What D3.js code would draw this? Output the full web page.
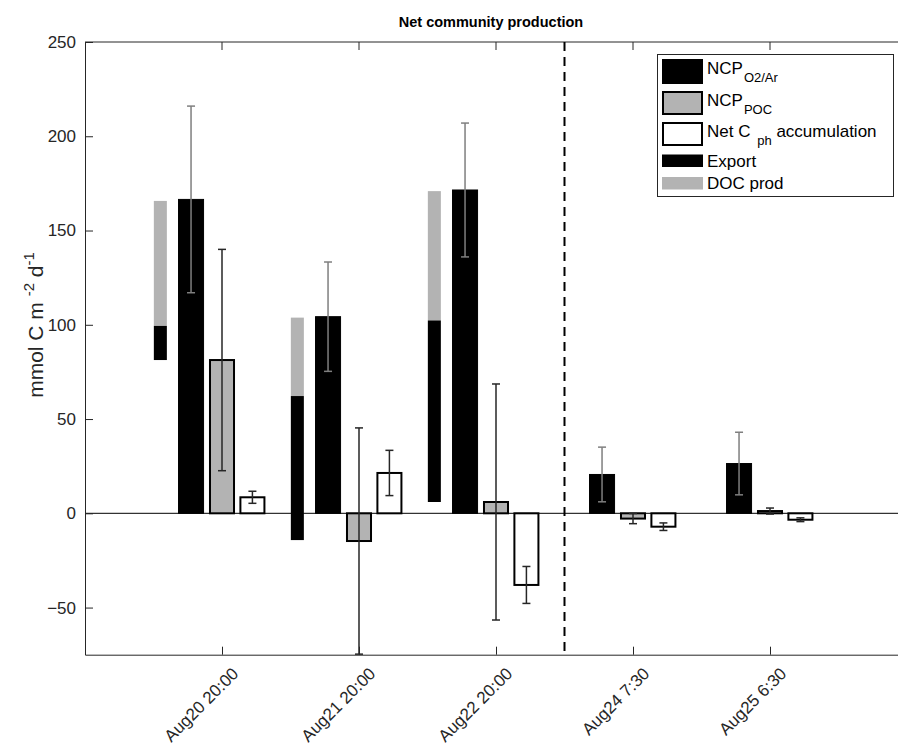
<!DOCTYPE html>
<html><head><meta charset="utf-8">
<script src="https://cdn.jsdelivr.net/npm/d3@7"></script>
<style>body{margin:0;background:#fff}svg{display:block;font-family:"Liberation Sans",Arial,Helvetica,sans-serif}</style>
</head><body><svg id="c" width="898" height="753"></svg>
<script>
const categories = ["Aug20 20:00","Aug21 20:00","Aug22 20:00","Aug24 7:30","Aug25 6:30"];
const ncpO2Ar    = [166.5, 104.3, 171.5, 20.6, 26.4];
const ncpO2ArErr = [49.5, 29, 35.5, 14.5, 16.6];
const ncpPOC     = [81.3, -14.7, 6, -2.8, 1.2];
const ncpPOCErr  = [58.7, 60, 62.6, 2.7, 1.6];
const netCph     = [8.5, 21.4, -38, -7.1, -3.4];
const netCphErr  = [3.2, 12, 9.8, 2, 1];
const exportBase = [81.3, -14.2, 6, null, null];
const exportTop  = [99.4, 62.2, 102.3, null, null];
const docTop     = [165.7, 103.8, 170.9, null, null];
const yTicks = [-50, 0, 50, 100, 150, 200, 250];
const dividerAt = 3.5;

const svg = d3.select("#c");
const L = 85, T = 42, B = 654.7, R = 907;
const x = d3.scaleLinear().domain([0, 6]).range([L, R]);
const y = d3.scaleLinear().domain([-75, 250]).range([B, T]);
const axisCol = "#262626";
const FS = 17;

const g = svg.append("g");
g.append("line").attr("x1", L).attr("x2", R).attr("y1", T).attr("y2", T).attr("stroke", axisCol).attr("stroke-width", 1);
g.append("line").attr("x1", L).attr("x2", R).attr("y1", y(0)).attr("y2", y(0)).attr("stroke", "#000").attr("stroke-width", 1);

const nW = x(0.095) - x(0), nOff = -0.45;
categories.forEach((c, i) => {
  if (exportTop[i] == null) return;
  const cx = x(i + 1 + nOff);
  g.append("rect").attr("x", cx - nW/2).attr("width", nW)
    .attr("y", y(docTop[i])).attr("height", y(exportTop[i]) - y(docTop[i])).attr("fill", "#b3b3b3");
  g.append("rect").attr("x", cx - nW/2).attr("width", nW)
    .attr("y", y(exportTop[i])).attr("height", y(exportBase[i]) - y(exportTop[i])).attr("fill", "#000");
});

const bW = x(0.19) - x(0);
const series = [
  {vals: ncpO2Ar, err: ncpO2ArErr, off: -0.226, fill: "#000", stroke: "#000", sw: 1, ec: "#7f7f7f"},
  {vals: ncpPOC, err: ncpPOCErr, off: 0, fill: "#b3b3b3", stroke: "#000", sw: 2, ec: "#262626"},
  {vals: netCph, err: netCphErr, off: 0.222, fill: "#fff", stroke: "#000", sw: 2, ec: "#262626"}
];
series.forEach(s => {
  s.vals.forEach((v, i) => {
    const cx = x(i + 1 + s.off);
    const y0 = y(Math.max(v, 0)), y1 = y(Math.min(v, 0));
    g.append("rect").attr("x", cx - bW/2 + s.sw/2).attr("width", bW - s.sw)
      .attr("y", y0).attr("height", Math.max(y1 - y0, 0.5))
      .attr("fill", s.fill).attr("stroke", s.stroke).attr("stroke-width", s.sw);
  });
});
series.forEach(s => {
  s.vals.forEach((v, i) => {
    const cx = x(i + 1 + s.off);
    const lo = Math.max(v - s.err[i], -75), hi = v + s.err[i];
    const eg = g.append("g").attr("stroke", s.ec).attr("stroke-width", 1.5);
    eg.append("line").attr("x1", cx).attr("x2", cx).attr("y1", y(lo)).attr("y2", y(hi));
    eg.append("line").attr("x1", cx - 4).attr("x2", cx + 4).attr("y1", y(hi)).attr("y2", y(hi));
    eg.append("line").attr("x1", cx - 4).attr("x2", cx + 4).attr("y1", y(lo)).attr("y2", y(lo));
  });
});

g.append("line").attr("x1", x(dividerAt)).attr("x2", x(dividerAt)).attr("y1", T).attr("y2", B)
  .attr("stroke", "#000").attr("stroke-width", 2).attr("stroke-dasharray", "9,6");

const ya = svg.append("g").attr("transform", `translate(${L},0)`)
  .call(d3.axisLeft(y).tickValues(yTicks).tickSize(-8).tickPadding(9).tickSizeOuter(0));
ya.select(".domain").attr("stroke", axisCol);
ya.selectAll(".tick line").attr("stroke", axisCol);
ya.selectAll("text").attr("font-size", FS).attr("fill", axisCol).attr("font-family", "Liberation Sans, Arial, sans-serif");

const xa = svg.append("g").attr("transform", `translate(0,${B})`)
  .call(d3.axisBottom(x).tickValues([1,2,3,4,5]).tickSize(-8).tickSizeOuter(0).tickFormat(""));
xa.select(".domain").attr("stroke", axisCol);
xa.selectAll(".tick line").attr("stroke", axisCol);
xa.selectAll(".tick").append("text")
  .attr("transform", "translate(17,20) rotate(-45)")
  .attr("text-anchor", "end").attr("fill", axisCol).attr("font-size", FS)
  .attr("font-family", "Liberation Sans, Arial, sans-serif")
  .text((d) => categories[d - 1]);
categories.forEach((c, i) => {
  svg.append("line").attr("x1", x(i+1)).attr("x2", x(i+1)).attr("y1", T).attr("y2", T + 8).attr("stroke", axisCol);
});

svg.append("text").attr("x", 491).attr("y", 27).attr("text-anchor", "middle")
  .attr("font-weight", "bold").attr("font-size", 14.5).attr("fill", "#000").text("Net community production");

const yl = svg.append("text").attr("transform", `translate(43,325) rotate(-90)`)
  .attr("text-anchor", "middle").attr("font-size", 21).attr("fill", axisCol);
yl.append("tspan").text("mmol C m ");
yl.append("tspan").attr("font-size", 15).attr("dy", -9).text("-2");
yl.append("tspan").attr("dy", 9).text(" d");
yl.append("tspan").attr("font-size", 15).attr("dy", -9).text("-1");

const lg = svg.append("g");
lg.append("rect").attr("x", 657.5).attr("y", 54.5).attr("width", 236).attr("height", 142)
  .attr("fill", "#fff").attr("stroke", axisCol).attr("stroke-width", 1);
const legItems = [
  {y0: 59, h: 25, fill: "#000", stroke: "#000", sw: 1, main: "NCP", sub: "O2/Ar", after: ""},
  {y0: 91, h: 24, fill: "#b3b3b3", stroke: "#000", sw: 2, main: "NCP", sub: "POC", after: ""},
  {y0: 122, h: 24, fill: "#fff", stroke: "#000", sw: 2, main: "Net C ", sub: "ph", after: " accumulation"},
  {y0: 154.5, h: 12.5, fill: "#000", stroke: "none", sw: 0, main: "Export", sub: null, after: ""},
  {y0: 177, h: 12.5, fill: "#b3b3b3", stroke: "none", sw: 0, main: "DOC prod", sub: null, after: ""}
];
legItems.forEach(it => {
  lg.append("rect").attr("x", 662 + it.sw/2).attr("y", it.y0 + it.sw/2)
    .attr("width", 41 - it.sw).attr("height", it.h - it.sw)
    .attr("fill", it.fill).attr("stroke", it.stroke).attr("stroke-width", it.sw);
  const t = lg.append("text").attr("x", 707).attr("y", it.sub ? it.y0 + 15 : it.y0 + it.h/2 + 6)
    .attr("font-size", 17).attr("fill", "#000");
  t.append("tspan").text(it.main);
  if (it.sub) {
    t.append("tspan").attr("font-size", 13).attr("dy", 8).attr("dx", it.after ? 2 : 1).text(it.sub);
    if (it.after) t.append("tspan").attr("font-size", 17).attr("dy", -8).text(it.after);
  }
});
</script></body></html>
